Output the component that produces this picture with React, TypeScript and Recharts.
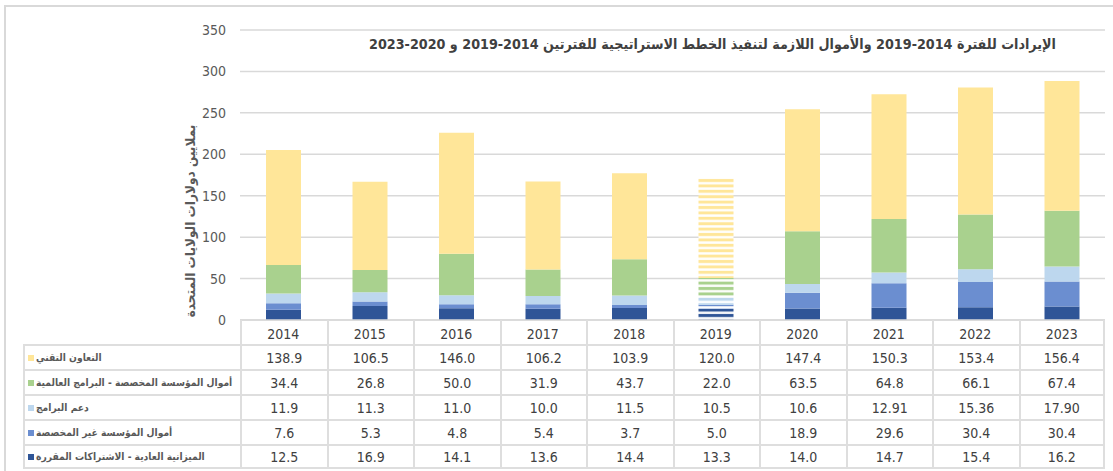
import { Bar, BarChart, CartesianGrid, Cell, XAxis, YAxis } from "recharts";

const years = ["2014", "2015", "2016", "2017", "2018", "2019", "2020", "2021", "2022", "2023"];

// values kept as printed in the table (some have 2 decimals)
const technicalCooperation = ["138.9", "106.5", "146.0", "106.2", "103.9", "120.0", "147.4", "150.3", "153.4", "156.4"];
const earmarkedGlobal = ["34.4", "26.8", "50.0", "31.9", "43.7", "22.0", "63.5", "64.8", "66.1", "67.4"];
const programmeSupport = ["11.9", "11.3", "11.0", "10.0", "11.5", "10.5", "10.6", "12.91", "15.36", "17.90"];
const unearmarked = ["7.6", "5.3", "4.8", "5.4", "3.7", "5.0", "18.9", "29.6", "30.4", "30.4"];
const regularBudget = ["12.5", "16.9", "14.1", "13.6", "14.4", "13.3", "14.0", "14.7", "15.4", "16.2"];

const yTicks = [0, 50, 100, 150, 200, 250, 300, 350];
const hatchedYear = "2019";

const title =
  "الإيرادات للفترة 2014\u200F-2019 والأموال اللازمة لتنفيذ الخطط الاستراتيجية للفترتين 2014\u200F-2019 و 2020\u200F-2023";
const yLabel = "بملايين دولارات الولايات المتحدة";

// stack order: bottom first
const series = [
  { key: "regular", name: "الميزانية العادية - الاشتراكات المقررة", color: "#2F5597", values: regularBudget },
  { key: "unearmarked", name: "أموال المؤسسة غير المخصصة", color: "#6B8ED0", values: unearmarked },
  { key: "support", name: "دعم البرامج", color: "#BDD7EE", values: programmeSupport },
  { key: "earmarked", name: "أموال المؤسسة المخصصة - البرامج العالمية", color: "#A9D18E", values: earmarkedGlobal },
  { key: "tc", name: "التعاون التقني", color: "#FFE699", values: technicalCooperation },
];

const data = years.map((year, i) => {
  const row: Record<string, string | number> = { year };
  series.forEach((s) => {
    row[s.key] = Number(s.values[i]);
  });
  return row;
});

const FONT = "'Liberation Sans Narrow', 'Arial Narrow', 'DejaVu Sans Condensed', sans-serif";
const GRID = "#D9D9D9";
const TEXT = "#595959";

const PLOT_LEFT = 240;
const PLOT_RIGHT = 1105;
const COL_W = (PLOT_RIGHT - PLOT_LEFT) / years.length;

function DataTable() {
  const rows = [...series].reverse();
  const border = `2px solid #DEDEDE`;
  return (
    <div
      style={{
        position: "absolute",
        left: 23,
        top: 320,
        display: "grid",
        gridTemplateColumns: `${PLOT_LEFT - 23}px repeat(${years.length}, ${COL_W}px)`,
        gridTemplateRows: "24px repeat(5, 25px)",
        fontFamily: FONT,
        color: "#404040",
        pointerEvents: "none",
      }}
    >
      <div />
      {years.map((y, i) => (
        <div
          key={y}
          style={{ borderLeft: border, borderRight: i === years.length - 1 ? border : undefined }}
        />
      ))}
      {rows.map((s, r) =>
        [
          <div
            key={s.key + "-label"}
            style={{
              borderLeft: border,
              borderTop: border,
              borderBottom: r === rows.length - 1 ? border : undefined,
              display: "flex",
              alignItems: "center",
              paddingLeft: 3,
              gap: 2,
            }}
          >
            <span style={{ width: 6, height: 6, background: s.color, flex: "none" }} />
            <span dir="rtl" style={{ fontSize: 10.2, fontWeight: "bold", color: TEXT, whiteSpace: "nowrap" }}>
              {s.name}
            </span>
          </div>,
          ...s.values.map((v, i) => (
            <div
              key={s.key + i}
              style={{
                borderLeft: border,
                borderTop: border,
                borderRight: i === years.length - 1 ? border : undefined,
                borderBottom: r === rows.length - 1 ? border : undefined,
                display: "flex",
                alignItems: "center",
                justifyContent: "center",
                fontSize: 14,
              }}
            >
              {v}
            </div>
          )),
        ]
      )}
    </div>
  );
}

export default function App() {
  return (
    <div
      style={{
        position: "absolute",
        left: 0,
        top: 0,
        width: 1113,
        height: 471,
        background: "#fff",
        overflow: "hidden",
        fontFamily: FONT,
      }}
    >
      <div
        style={{
          position: "absolute",
          left: 4,
          top: 5,
          width: 1200,
          height: 600,
          border: `2px solid ${GRID}`,
        }}
      />
      <div style={{ position: "absolute", left: 0, top: 0 }}>
        <BarChart
          width={1113}
          height={344}
          data={data}
          margin={{ top: 30, right: 1113 - PLOT_RIGHT, bottom: 0, left: PLOT_LEFT - 45 }}
        >
          <defs>
            {series.map((s, si) => (
              <pattern
                key={s.key}
                id={`hatch-${si}`}
                width="6"
                height="5.4"
                patternUnits="userSpaceOnUse"
              >
                <rect width="6" height="5.4" fill="#fff" />
                <rect y="0.8" width="6" height="3" fill={s.color} />
              </pattern>
            ))}
          </defs>
          <CartesianGrid vertical={false} stroke={GRID} strokeWidth={1.5} />
          <XAxis
            dataKey="year"
            tickLine={false}
            axisLine={{ stroke: GRID, strokeWidth: 1.5 }}
            height={24}
            tick={{ fontSize: 14, fill: "#404040", fontFamily: FONT }}
            tickMargin={3}
          />
          <YAxis
            domain={[0, 350]}
            ticks={yTicks}
            width={45}
            axisLine={false}
            tickLine={false}
            tickMargin={8}
            tick={{ fontSize: 14, fill: TEXT, fontFamily: FONT }}
            label={{
              content: () => (
                <text
                  x={190}
                  y={221}
                  transform="rotate(-90 190 221)"
                  textAnchor="middle"
                  dominantBaseline="central"
                  fontSize={13.5}
                  fontWeight="bold"
                  fill={TEXT}
                  direction="rtl"
                >
                  {yLabel}
                </text>
              ),
            }}
          />
          {series.map((s, si) => (
            <Bar
              key={s.key}
              dataKey={s.key}
              name={s.name}
              stackId="a"
              barSize={35}
              fill={s.color}
              isAnimationActive={false}
            >
              {data.map((d) => (
                <Cell key={String(d.year)} fill={d.year === hatchedYear ? `url(#hatch-${si})` : s.color} />
              ))}
            </Bar>
          ))}
        </BarChart>
      </div>
      <div
        dir="rtl"
        style={{
          position: "absolute",
          left: 358,
          width: 709,
          top: 36,
          textAlign: "center",
          fontSize: 14.2,
          fontWeight: "bold",
          color: "#404040",
          whiteSpace: "nowrap",
        }}
      >
        {title}
      </div>
      <DataTable />
    </div>
  );
}
